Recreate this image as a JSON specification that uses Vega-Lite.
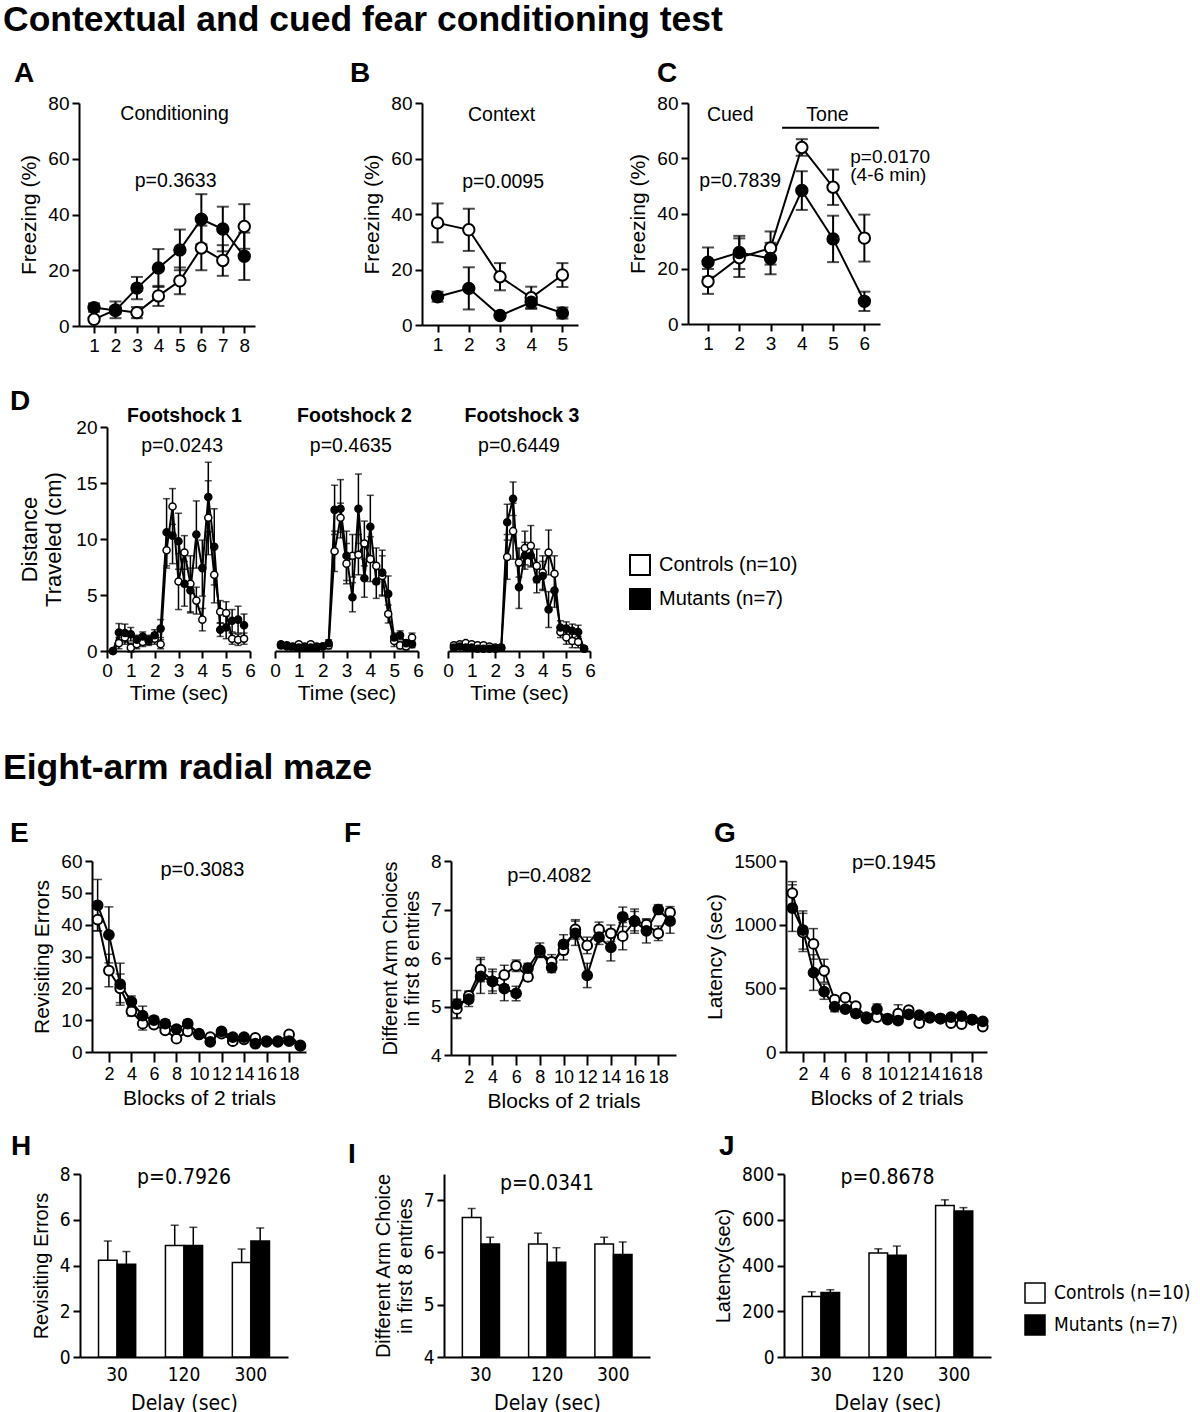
{
"$schema":"https://vega.github.io/schema/vega-lite/v6.json",
"background":"white",
"padding":{"left":3,"top":2,"right":3,"bottom":3},
"config":{
 "font":"Liberation Sans",
 "view":{"stroke":null},
 "axis":{"domainColor":"black","domainWidth":2,"tickColor":"black","tickWidth":2,"tickSize":7,"labelColor":"black","labelFontSize":19,"labelPadding":3,"titleColor":"black","titleFontSize":21,"titleFontWeight":"normal","titlePadding":8,"grid":false,"labelFlush":false,"labelOverlap":false},
 "title":{"fontSize":28,"fontWeight":"bold","anchor":"start","frame":"group","color":"black","offset":6},
 "text":{"color":"black","font":"Liberation Sans"}
},
"datasets":{
 "A":[{"x":1,"g":"C","m":2.4,"e":0.6},{"x":2,"g":"C","m":5.8,"e":3},{"x":3,"g":"C","m":4.8,"e":2},{"x":4,"g":"C","m":10.8,"e":3.6},{"x":5,"g":"C","m":16.2,"e":4.8},{"x":6,"g":"C","m":28,"e":8},{"x":7,"g":"C","m":23.5,"e":5.5},{"x":8,"g":"C","m":35.7,"e":8},
      {"x":1,"g":"M","m":6.6,"e":1.5},{"x":2,"g":"M","m":5.6,"e":1.2},{"x":3,"g":"M","m":13.6,"e":4},{"x":4,"g":"M","m":20.8,"e":6.8},{"x":5,"g":"M","m":27.3,"e":7.3},{"x":6,"g":"M","m":38.3,"e":9},{"x":7,"g":"M","m":34.8,"e":8},{"x":8,"g":"M","m":25,"e":8.5}],
 "At":[{"x":4.75,"y":76,"t":"Conditioning"},{"x":4.8,"y":52,"t":"p=0.3633"}],
 "B":[{"x":1,"g":"C","m":36.8,"e":7},{"x":2,"g":"C","m":34.3,"e":7.6},{"x":3,"g":"C","m":17.4,"e":4.9},{"x":4,"g":"C","m":9.8,"e":4},{"x":5,"g":"C","m":18,"e":4.3},
      {"x":1,"g":"M","m":10.2,"e":1.8},{"x":2,"g":"M","m":13.2,"e":7.6},{"x":3,"g":"M","m":3.4,"e":0.5},{"x":4,"g":"M","m":8.2,"e":2},{"x":5,"g":"M","m":4.3,"e":2}],
 "Bt":[{"x":3.05,"y":75.7,"t":"Context"},{"x":3.1,"y":51.6,"t":"p=0.0095"}],
 "C":[{"x":1,"g":"C","m":15.4,"e":4.5},{"x":2,"g":"C","m":24,"e":7},{"x":3,"g":"C","m":27.5,"e":6},{"x":4,"g":"C","m":63.9,"e":3},{"x":5,"g":"C","m":49.5,"e":6.4},{"x":6,"g":"C","m":31.1,"e":8.5},
      {"x":1,"g":"M","m":22.4,"e":5.3},{"x":2,"g":"M","m":25.9,"e":6},{"x":3,"g":"M","m":23.7,"e":5.7},{"x":4,"g":"M","m":48.3,"e":7},{"x":5,"g":"M","m":30.8,"e":8.4},{"x":6,"g":"M","m":8.2,"e":3.5}],
 "Ct":[{"x":1.71,"y":75.7,"t":"Cued"},{"x":4.82,"y":75.7,"t":"Tone"},{"x":2.03,"y":51.9,"t":"p=0.7839"}],
 "Ct2":[{"x":5.55,"y":60.6,"t":"p=0.0170"},{"x":5.55,"y":54,"t":"(4-6 min)"}],
 "Cr":[{"x":3.37,"x2":6.47,"y":71}],
 "D1":[{"x":0.25,"g":"C","m":0,"e":0.1},{"x":0.5,"g":"C","m":0.7,"e":0.5},{"x":0.75,"g":"C","m":1.2,"e":0.6},{"x":1,"g":"C","m":0.3,"e":0.4},{"x":1.25,"g":"C","m":0.6,"e":0.4},{"x":1.5,"g":"C","m":0.8,"e":0.4},{"x":1.75,"g":"C","m":0.9,"e":0.4},{"x":2,"g":"C","m":1.1,"e":0.5},{"x":2.25,"g":"C","m":0.6,"e":0.4},{"x":2.5,"g":"C","m":9.0,"e":1.6},{"x":2.75,"g":"C","m":12.9,"e":1.6},{"x":3,"g":"C","m":6.2,"e":2.5},{"x":3.25,"g":"C","m":8.8,"e":1.5},{"x":3.5,"g":"C","m":6.0,"e":2.5},{"x":3.75,"g":"C","m":4.5,"e":1.2},{"x":4,"g":"C","m":2.8,"e":1.0},{"x":4.25,"g":"C","m":11.9,"e":3.3},{"x":4.5,"g":"C","m":6.8,"e":2.5},{"x":4.75,"g":"C","m":3.5,"e":1.0},{"x":5,"g":"C","m":3.4,"e":1.0},{"x":5.25,"g":"C","m":1.1,"e":0.5},{"x":5.5,"g":"C","m":1.0,"e":0.5},{"x":5.75,"g":"C","m":1.1,"e":0.5},
       {"x":0.25,"g":"M","m":0,"e":0.1},{"x":0.5,"g":"M","m":1.65,"e":0.8},{"x":0.75,"g":"M","m":1.6,"e":0.8},{"x":1,"g":"M","m":1.5,"e":0.6},{"x":1.25,"g":"M","m":1.0,"e":0.4},{"x":1.5,"g":"M","m":1.3,"e":0.4},{"x":1.75,"g":"M","m":1.0,"e":0.4},{"x":2,"g":"M","m":1.4,"e":0.5},{"x":2.25,"g":"M","m":2.0,"e":0.8},{"x":2.5,"g":"M","m":10.6,"e":3.0},{"x":2.75,"g":"M","m":10.3,"e":2.5},{"x":3,"g":"M","m":9.8,"e":2.5},{"x":3.25,"g":"M","m":6.0,"e":2.0},{"x":3.5,"g":"M","m":5.4,"e":2.0},{"x":3.75,"g":"M","m":10.4,"e":3.0},{"x":4,"g":"M","m":7.4,"e":2.5},{"x":4.25,"g":"M","m":13.75,"e":3.1},{"x":4.5,"g":"M","m":9.3,"e":3.4},{"x":4.75,"g":"M","m":1.9,"e":0.6},{"x":5,"g":"M","m":2.1,"e":1.0},{"x":5.25,"g":"M","m":2.7,"e":1.0},{"x":5.5,"g":"M","m":2.8,"e":1.2},{"x":5.75,"g":"M","m":2.3,"e":1.0}],
 "D2":[{"x":0.25,"g":"C","m":0.6,"e":0.2},{"x":0.5,"g":"C","m":0.4,"e":0.2},{"x":0.75,"g":"C","m":0.3,"e":0.2},{"x":1,"g":"C","m":0.6,"e":0.2},{"x":1.25,"g":"C","m":0.4,"e":0.2},{"x":1.5,"g":"C","m":0.6,"e":0.2},{"x":1.75,"g":"C","m":0.4,"e":0.2},{"x":2,"g":"C","m":0.4,"e":0.2},{"x":2.25,"g":"C","m":0.5,"e":0.3},{"x":2.5,"g":"C","m":8.9,"e":1.8},{"x":2.75,"g":"C","m":11.9,"e":1.3},{"x":3,"g":"C","m":7.8,"e":1.8},{"x":3.25,"g":"C","m":8.5,"e":1.9},{"x":3.5,"g":"C","m":8.6,"e":1.8},{"x":3.75,"g":"C","m":9.6,"e":2.0},{"x":4,"g":"C","m":8.2,"e":2.0},{"x":4.25,"g":"C","m":7.6,"e":1.6},{"x":4.5,"g":"C","m":6.7,"e":1.8},{"x":4.75,"g":"C","m":3.3,"e":0.8},{"x":5,"g":"C","m":0.9,"e":0.5},{"x":5.25,"g":"C","m":0.5,"e":0.3},{"x":5.5,"g":"C","m":0.4,"e":0.3},{"x":5.75,"g":"C","m":1.2,"e":0.4},
       {"x":0.25,"g":"M","m":0.5,"e":0.2},{"x":0.5,"g":"M","m":0.5,"e":0.2},{"x":0.75,"g":"M","m":0.4,"e":0.2},{"x":1,"g":"M","m":0.3,"e":0.2},{"x":1.25,"g":"M","m":0.3,"e":0.2},{"x":1.5,"g":"M","m":0.3,"e":0.2},{"x":1.75,"g":"M","m":0.3,"e":0.2},{"x":2,"g":"M","m":0.4,"e":0.2},{"x":2.25,"g":"M","m":0.7,"e":0.3},{"x":2.5,"g":"M","m":12.6,"e":2.2},{"x":2.75,"g":"M","m":12.7,"e":2.6},{"x":3,"g":"M","m":8.5,"e":2.2},{"x":3.25,"g":"M","m":4.8,"e":1.3},{"x":3.5,"g":"M","m":12.7,"e":3.1},{"x":3.75,"g":"M","m":6.5,"e":1.7},{"x":4,"g":"M","m":11.1,"e":2.8},{"x":4.25,"g":"M","m":6.2,"e":1.5},{"x":4.5,"g":"M","m":7.0,"e":2.0},{"x":4.75,"g":"M","m":5.1,"e":1.6},{"x":5,"g":"M","m":1.2,"e":0.4},{"x":5.25,"g":"M","m":1.4,"e":0.4},{"x":5.5,"g":"M","m":0.7,"e":0.3},{"x":5.75,"g":"M","m":0.6,"e":0.3}],
 "D3":[{"x":0.25,"g":"C","m":0.5,"e":0.2},{"x":0.5,"g":"C","m":0.6,"e":0.2},{"x":0.75,"g":"C","m":0.7,"e":0.2},{"x":1,"g":"C","m":0.6,"e":0.2},{"x":1.25,"g":"C","m":0.5,"e":0.2},{"x":1.5,"g":"C","m":0.5,"e":0.2},{"x":1.75,"g":"C","m":0.4,"e":0.2},{"x":2,"g":"C","m":0.3,"e":0.2},{"x":2.25,"g":"C","m":0.3,"e":0.2},{"x":2.5,"g":"C","m":8.4,"e":2.0},{"x":2.75,"g":"C","m":10.7,"e":2.5},{"x":3,"g":"C","m":7.9,"e":1.3},{"x":3.25,"g":"C","m":9.2,"e":1.5},{"x":3.5,"g":"C","m":9.4,"e":1.8},{"x":3.75,"g":"C","m":7.6,"e":1.5},{"x":4,"g":"C","m":7.0,"e":1.5},{"x":4.25,"g":"C","m":8.8,"e":2.0},{"x":4.5,"g":"C","m":6.9,"e":1.6},{"x":4.75,"g":"C","m":1.7,"e":0.5},{"x":5,"g":"C","m":1.2,"e":0.6},{"x":5.25,"g":"C","m":0.9,"e":0.6},{"x":5.5,"g":"C","m":0.8,"e":0.5},{"x":5.75,"g":"C","m":0.2,"e":0.2},
       {"x":0.25,"g":"M","m":0.3,"e":0.2},{"x":0.5,"g":"M","m":0.4,"e":0.2},{"x":0.75,"g":"M","m":0.3,"e":0.2},{"x":1,"g":"M","m":0.3,"e":0.2},{"x":1.25,"g":"M","m":0.2,"e":0.2},{"x":1.5,"g":"M","m":0.2,"e":0.2},{"x":1.75,"g":"M","m":0.2,"e":0.2},{"x":2,"g":"M","m":0.2,"e":0.2},{"x":2.25,"g":"M","m":0.3,"e":0.2},{"x":2.5,"g":"M","m":11.5,"e":1.6},{"x":2.75,"g":"M","m":13.6,"e":1.5},{"x":3,"g":"M","m":5.7,"e":1.9},{"x":3.25,"g":"M","m":8.5,"e":1.2},{"x":3.5,"g":"M","m":8.5,"e":1.0},{"x":3.75,"g":"M","m":6.4,"e":1.2},{"x":4,"g":"M","m":6.7,"e":1.3},{"x":4.25,"g":"M","m":3.7,"e":1.6},{"x":4.5,"g":"M","m":5.4,"e":1.5},{"x":4.75,"g":"M","m":2.1,"e":0.6},{"x":5,"g":"M","m":2.0,"e":0.6},{"x":5.25,"g":"M","m":1.8,"e":0.6},{"x":5.5,"g":"M","m":1.7,"e":0.6},{"x":5.75,"g":"M","m":0.2,"e":0.2}],
 "D1t":[{"x":3.15,"y":18.3,"t":"p=0.0243"}],
 "D2t":[{"x":3.18,"y":18.3,"t":"p=0.4635"}],
 "D3t":[{"x":3.0,"y":18.3,"t":"p=0.6449"}],
 "E":[{"x":1,"g":"C","m":41.6,"e":3.5},{"x":2,"g":"C","m":25.6,"e":5.1},{"x":3,"g":"C","m":20,"e":4.5},{"x":4,"g":"C","m":12.8,"e":1.5},{"x":5,"g":"C","m":8.9,"e":2},{"x":6,"g":"C","m":8.6,"e":1},{"x":7,"g":"C","m":6.8,"e":0.8},{"x":8,"g":"C","m":4.2,"e":0.6},{"x":9,"g":"C","m":6.5,"e":0.8},{"x":10,"g":"C","m":5.5,"e":0.6},{"x":11,"g":"C","m":4.7,"e":0.6},{"x":12,"g":"C","m":5.8,"e":0.6},{"x":13,"g":"C","m":3.4,"e":0.6},{"x":14,"g":"C","m":4,"e":0.6},{"x":15,"g":"C","m":4.4,"e":0.6},{"x":16,"g":"C","m":3.2,"e":0.5},{"x":17,"g":"C","m":3.2,"e":0.5},{"x":18,"g":"C","m":5.5,"e":0.8},{"x":19,"g":"C","m":1.9,"e":0.5},
      {"x":1,"g":"M","m":46.1,"e":8.1},{"x":2,"g":"M","m":36.8,"e":8.8},{"x":3,"g":"M","m":21.3,"e":6.6},{"x":4,"g":"M","m":15.8,"e":1.8},{"x":5,"g":"M","m":11.4,"e":3},{"x":6,"g":"M","m":10,"e":1.2},{"x":7,"g":"M","m":8.9,"e":1.2},{"x":8,"g":"M","m":7.2,"e":1},{"x":9,"g":"M","m":8.9,"e":1.2},{"x":10,"g":"M","m":5.8,"e":1},{"x":11,"g":"M","m":3.2,"e":0.8},{"x":12,"g":"M","m":6.5,"e":1},{"x":13,"g":"M","m":4.7,"e":1},{"x":14,"g":"M","m":4.7,"e":0.8},{"x":15,"g":"M","m":2.6,"e":0.6},{"x":16,"g":"M","m":3.4,"e":0.8},{"x":17,"g":"M","m":3.4,"e":0.6},{"x":18,"g":"M","m":3.4,"e":0.8},{"x":19,"g":"M","m":2.1,"e":0.6}],
 "Et":[{"x":10.3,"y":57.3,"t":"p=0.3083"}],
 "F":[{"x":1,"g":"C","m":4.95,"e":0.2},{"x":2,"g":"C","m":5.22,"e":0.1},{"x":3,"g":"C","m":5.76,"e":0.25},{"x":4,"g":"C","m":5.52,"e":0.2},{"x":5,"g":"C","m":5.65,"e":0.2},{"x":6,"g":"C","m":5.84,"e":0.12},{"x":7,"g":"C","m":5.61,"e":0.08},{"x":8,"g":"C","m":6.12,"e":0.1},{"x":9,"g":"C","m":5.92,"e":0.15},{"x":10,"g":"C","m":6.16,"e":0.2},{"x":11,"g":"C","m":6.59,"e":0.2},{"x":12,"g":"C","m":6.26,"e":0.17},{"x":13,"g":"C","m":6.59,"e":0.15},{"x":14,"g":"C","m":6.51,"e":0.17},{"x":15,"g":"C","m":6.45,"e":0.28},{"x":16,"g":"C","m":6.76,"e":0.2},{"x":17,"g":"C","m":6.69,"e":0.1},{"x":18,"g":"C","m":6.51,"e":0.15},{"x":19,"g":"C","m":6.94,"e":0.12},
      {"x":1,"g":"M","m":5.05,"e":0.28},{"x":2,"g":"M","m":5.15,"e":0.15},{"x":3,"g":"M","m":5.62,"e":0.35},{"x":4,"g":"M","m":5.52,"e":0.25},{"x":5,"g":"M","m":5.37,"e":0.25},{"x":6,"g":"M","m":5.27,"e":0.15},{"x":7,"g":"M","m":5.79,"e":0.1},{"x":8,"g":"M","m":6.16,"e":0.15},{"x":9,"g":"M","m":5.8,"e":0.1},{"x":10,"g":"M","m":6.28,"e":0.2},{"x":11,"g":"M","m":6.51,"e":0.25},{"x":12,"g":"M","m":5.64,"e":0.25},{"x":13,"g":"M","m":6.43,"e":0.15},{"x":14,"g":"M","m":6.22,"e":0.28},{"x":15,"g":"M","m":6.85,"e":0.2},{"x":16,"g":"M","m":6.76,"e":0.25},{"x":17,"g":"M","m":6.56,"e":0.25},{"x":18,"g":"M","m":7.0,"e":0.1},{"x":19,"g":"M","m":6.76,"e":0.25}],
 "Ft":[{"x":8.8,"y":7.7,"t":"p=0.4082"}],
 "G":[{"x":1,"g":"C","m":1248,"e":90},{"x":2,"g":"C","m":939,"e":150},{"x":3,"g":"C","m":849,"e":120},{"x":4,"g":"C","m":638,"e":90},{"x":5,"g":"C","m":411,"e":30},{"x":6,"g":"C","m":427,"e":20},{"x":7,"g":"C","m":361,"e":20},{"x":8,"g":"C","m":274,"e":20},{"x":9,"g":"C","m":274,"e":30},{"x":10,"g":"C","m":263,"e":20},{"x":11,"g":"C","m":301,"e":70},{"x":12,"g":"C","m":328,"e":20},{"x":13,"g":"C","m":227,"e":20},{"x":14,"g":"C","m":268,"e":20},{"x":15,"g":"C","m":263,"e":20},{"x":16,"g":"C","m":227,"e":20},{"x":17,"g":"C","m":219,"e":20},{"x":18,"g":"C","m":255,"e":20},{"x":19,"g":"C","m":200,"e":20},
      {"x":1,"g":"M","m":1130,"e":183},{"x":2,"g":"M","m":958,"e":150},{"x":3,"g":"M","m":624,"e":140},{"x":4,"g":"M","m":474,"e":60},{"x":5,"g":"M","m":356,"e":40},{"x":6,"g":"M","m":337,"e":25},{"x":7,"g":"M","m":301,"e":25},{"x":8,"g":"M","m":263,"e":20},{"x":9,"g":"M","m":337,"e":40},{"x":10,"g":"M","m":255,"e":25},{"x":11,"g":"M","m":246,"e":25},{"x":12,"g":"M","m":296,"e":25},{"x":13,"g":"M","m":290,"e":20},{"x":14,"g":"M","m":274,"e":20},{"x":15,"g":"M","m":263,"e":20},{"x":16,"g":"M","m":274,"e":20},{"x":17,"g":"M","m":282,"e":20},{"x":18,"g":"M","m":255,"e":20},{"x":19,"g":"M","m":241,"e":20}],
 "Gt":[{"x":10.6,"y":1486,"t":"p=0.1945"}],
 "H":[{"d":"30","g":"C","m":4.23,"e":0.84},{"d":"120","g":"C","m":4.87,"e":0.89},{"d":"300","g":"C","m":4.13,"e":0.59},{"d":"30","g":"M","m":4.06,"e":0.55},{"d":"120","g":"M","m":4.87,"e":0.8},{"d":"300","g":"M","m":5.07,"e":0.57}],
 "Ht":[{"d":"120","y":7.84,"t":"p=0.7926"}],
 "I":[{"d":"30","g":"C","m":6.67,"e":0.17},{"d":"120","g":"C","m":6.16,"e":0.21},{"d":"300","g":"C","m":6.16,"e":0.13},{"d":"30","g":"M","m":6.16,"e":0.13},{"d":"120","g":"M","m":5.81,"e":0.28},{"d":"300","g":"M","m":5.96,"e":0.24}],
 "It":[{"d":"120","y":7.3,"t":"p=0.0341"}],
 "J":[{"d":"30","g":"C","m":265,"e":20},{"d":"120","g":"C","m":455,"e":18},{"d":"300","g":"C","m":662,"e":25},{"d":"30","g":"M","m":282,"e":12},{"d":"120","g":"M","m":445,"e":40},{"d":"300","g":"M","m":638,"e":15}],
 "Jt":[{"d":"120","y":783,"t":"p=0.8678"}]
},
"title":{"text":"Contextual and cued fear conditioning test","fontSize":35.5,"dx":-76,"offset":22},
"spacing":0,
"bounds":"flush",
"resolve":{"scale":{"fill":"independent"}},
"vconcat":[
 {
  "spacing":0,"bounds":"flush","resolve":{"scale":{"fill":"independent"}},
  "hconcat":[
   {
    "width":176,"height":223,"title":{"text":"A","dx":-65},
    "data":{"name":"A"},
    "layer":[
     {"mark":{"type":"errorbar","ticks":{"size":12},"thickness":2,"color":"black"},
      "encoding":{"x":{"field":"x","type":"quantitative","scale":{"domain":[0.3,8.5],"nice":false},"axis":{"values":[1,2,3,4,5,6,7,8],"tickCount":40,"format":"d","title":null}},
        "y":{"field":"m","type":"quantitative","scale":{"domain":[0,80],"nice":false},"axis":{"values":[0,20,40,60,80],"tickCount":40,"format":"d","title":"Freezing (%)"}},
        "yError":{"field":"e"},"detail":{"field":"g"}}},
     {"mark":{"type":"line","color":"black","strokeWidth":2},"encoding":{"x":{"field":"x","type":"quantitative"},"y":{"field":"m","type":"quantitative"},"detail":{"field":"g"}}},
     {"mark":{"type":"point","shape":"circle","filled":true,"size":130,"stroke":"black","strokeWidth":2,"opacity":1},
      "encoding":{"x":{"field":"x","type":"quantitative"},"y":{"field":"m","type":"quantitative"},"fill":{"field":"g","type":"nominal","scale":{"domain":["C","M"],"range":["white","black"]},"legend":null}}},
     {"data":{"name":"At"},"mark":{"type":"text","fontSize":19.5},"encoding":{"x":{"field":"x","type":"quantitative"},"y":{"field":"y","type":"quantitative"},"text":{"field":"t"}}}
    ]
   },
   {"width":167,"height":1,"data":{"values":[]},"mark":"point"},
   {
    "width":156,"height":222,"title":{"text":"B","dx":-72},
    "data":{"name":"B"},
    "layer":[
     {"mark":{"type":"errorbar","ticks":{"size":12},"thickness":2,"color":"black"},
      "encoding":{"x":{"field":"x","type":"quantitative","scale":{"domain":[0.5,5.5],"nice":false},"axis":{"values":[1,2,3,4,5],"tickCount":40,"format":"d","title":null}},
        "y":{"field":"m","type":"quantitative","scale":{"domain":[0,80],"nice":false},"axis":{"values":[0,20,40,60,80],"tickCount":40,"format":"d","title":"Freezing (%)"}},
        "yError":{"field":"e"},"detail":{"field":"g"}}},
     {"mark":{"type":"line","color":"black","strokeWidth":2},"encoding":{"x":{"field":"x","type":"quantitative"},"y":{"field":"m","type":"quantitative"},"detail":{"field":"g"}}},
     {"mark":{"type":"point","shape":"circle","filled":true,"size":130,"stroke":"black","strokeWidth":2,"opacity":1},
      "encoding":{"x":{"field":"x","type":"quantitative"},"y":{"field":"m","type":"quantitative"},"fill":{"field":"g","type":"nominal","scale":{"domain":["C","M"],"range":["white","black"]},"legend":null}}},
     {"data":{"name":"Bt"},"mark":{"type":"text","fontSize":19.5},"encoding":{"x":{"field":"x","type":"quantitative"},"y":{"field":"y","type":"quantitative"},"text":{"field":"t"}}}
    ]
   },
   {"width":110,"height":1,"data":{"values":[]},"mark":"point"},
   {
    "width":192,"height":221,"title":{"text":"C","dx":-31},
    "data":{"name":"C"},
    "layer":[
     {"mark":{"type":"errorbar","ticks":{"size":12},"thickness":2,"color":"black"},
      "encoding":{"x":{"field":"x","type":"quantitative","scale":{"domain":[0.36,6.5],"nice":false},"axis":{"values":[1,2,3,4,5,6],"tickCount":40,"format":"d","title":null}},
        "y":{"field":"m","type":"quantitative","scale":{"domain":[0,80],"nice":false},"axis":{"values":[0,20,40,60,80],"tickCount":40,"format":"d","title":"Freezing (%)"}},
        "yError":{"field":"e"},"detail":{"field":"g"}}},
     {"mark":{"type":"line","color":"black","strokeWidth":2},"encoding":{"x":{"field":"x","type":"quantitative"},"y":{"field":"m","type":"quantitative"},"detail":{"field":"g"}}},
     {"mark":{"type":"point","shape":"circle","filled":true,"size":130,"stroke":"black","strokeWidth":2,"opacity":1},
      "encoding":{"x":{"field":"x","type":"quantitative"},"y":{"field":"m","type":"quantitative"},"fill":{"field":"g","type":"nominal","scale":{"domain":["C","M"],"range":["white","black"]},"legend":null}}},
     {"data":{"name":"Ct"},"mark":{"type":"text","fontSize":19.5},"encoding":{"x":{"field":"x","type":"quantitative"},"y":{"field":"y","type":"quantitative"},"text":{"field":"t"}}},
     {"data":{"name":"Ct2"},"mark":{"type":"text","fontSize":19,"align":"left"},"encoding":{"x":{"field":"x","type":"quantitative"},"y":{"field":"y","type":"quantitative"},"text":{"field":"t"}}},
     {"data":{"name":"Cr"},"mark":{"type":"rule","color":"black","strokeWidth":2},"encoding":{"x":{"field":"x","type":"quantitative"},"x2":{"field":"x2"},"y":{"field":"y","type":"quantitative"}}}
    ]
   }
  ]
 },
 {"width":1,"height":324,"data":{"values":[]},"mark":"point"},
 {
  "spacing":0,"bounds":"flush","resolve":{"scale":{"fill":"independent"}},
  "hconcat":[
   {"width":28,"height":10,"title":{"text":"D","dx":-69,"offset":11},"data":{"values":[]},"mark":"point"},
   {
    "width":143,"height":224,"title":{"text":"Footshock 1","anchor":"middle","fontSize":19.5,"dx":6,"offset":-8},
    "data":{"name":"D1"},
    "layer":[
     {"mark":{"type":"errorbar","ticks":{"size":7},"thickness":1.5,"color":"black"},
      "encoding":{"x":{"field":"x","type":"quantitative","scale":{"domain":[0,6],"nice":false},"axis":{"values":[0,1,2,3,4,5,6],"tickCount":40,"format":"d","title":"Time (sec)","titlePadding":2}},
        "y":{"field":"m","type":"quantitative","scale":{"domain":[0,20],"nice":false},"axis":{"values":[0,5,10,15,20],"tickCount":40,"format":"d","title":["Distance","Traveled (cm)"],"titleFontSize":22,"titlePadding":10}},
        "yError":{"field":"e"},"detail":{"field":"g"}}},
     {"mark":{"type":"line","color":"black","strokeWidth":2},"encoding":{"x":{"field":"x","type":"quantitative"},"y":{"field":"m","type":"quantitative"},"detail":{"field":"g"}}},
     {"mark":{"type":"point","shape":"circle","filled":true,"size":50,"stroke":"black","strokeWidth":1.5,"opacity":1},
      "encoding":{"x":{"field":"x","type":"quantitative"},"y":{"field":"m","type":"quantitative"},"fill":{"field":"g","type":"nominal","scale":{"domain":["C","M"],"range":["white","black"]},"legend":null}}},
     {"data":{"name":"D1t"},"mark":{"type":"text","fontSize":19.5},"encoding":{"x":{"field":"x","type":"quantitative"},"y":{"field":"y","type":"quantitative"},"text":{"field":"t"}}}
    ]
   },
   {"width":25,"height":1,"data":{"values":[]},"mark":"point"},
   {
    "width":143,"height":224,"title":{"text":"Footshock 2","anchor":"middle","fontSize":19.5,"dx":8,"offset":1},
    "data":{"name":"D2"},
    "layer":[
     {"mark":{"type":"errorbar","ticks":{"size":7},"thickness":1.5,"color":"black"},
      "encoding":{"x":{"field":"x","type":"quantitative","scale":{"domain":[0,6],"nice":false},"axis":{"values":[0,1,2,3,4,5,6],"tickCount":40,"format":"d","title":"Time (sec)","titlePadding":2}},
        "y":{"field":"m","type":"quantitative","scale":{"domain":[0,20],"nice":false},"axis":null},
        "yError":{"field":"e"},"detail":{"field":"g"}}},
     {"mark":{"type":"line","color":"black","strokeWidth":2},"encoding":{"x":{"field":"x","type":"quantitative"},"y":{"field":"m","type":"quantitative"},"detail":{"field":"g"}}},
     {"mark":{"type":"point","shape":"circle","filled":true,"size":50,"stroke":"black","strokeWidth":1.5,"opacity":1},
      "encoding":{"x":{"field":"x","type":"quantitative"},"y":{"field":"m","type":"quantitative"},"fill":{"field":"g","type":"nominal","scale":{"domain":["C","M"],"range":["white","black"]},"legend":null}}},
     {"data":{"name":"D2t"},"mark":{"type":"text","fontSize":19.5},"encoding":{"x":{"field":"x","type":"quantitative"},"y":{"field":"y","type":"quantitative"},"text":{"field":"t"}}}
    ]
   },
   {"width":30,"height":1,"data":{"values":[]},"mark":"point"},
   {
    "width":142,"height":224,"title":{"text":"Footshock 3","anchor":"middle","fontSize":19.5,"dx":3,"offset":1},
    "data":{"name":"D3"},
    "layer":[
     {"mark":{"type":"errorbar","ticks":{"size":7},"thickness":1.5,"color":"black"},
      "encoding":{"x":{"field":"x","type":"quantitative","scale":{"domain":[0,6],"nice":false},"axis":{"values":[0,1,2,3,4,5,6],"tickCount":40,"format":"d","title":"Time (sec)","titlePadding":2}},
        "y":{"field":"m","type":"quantitative","scale":{"domain":[0,20],"nice":false},"axis":null},
        "yError":{"field":"e"},"detail":{"field":"g"}}},
     {"mark":{"type":"line","color":"black","strokeWidth":2},"encoding":{"x":{"field":"x","type":"quantitative"},"y":{"field":"m","type":"quantitative"},"detail":{"field":"g"}}},
     {"mark":{"type":"point","shape":"circle","filled":true,"size":50,"stroke":"black","strokeWidth":1.5,"opacity":1},
      "encoding":{"x":{"field":"x","type":"quantitative"},"y":{"field":"m","type":"quantitative"},"fill":{"field":"g","type":"nominal","scale":{"domain":["C","M"],"range":["white","black"]},
        "legend":{"orient":"none","legendX":181,"legendY":127,"title":null,"symbolType":"square","symbolSize":400,"symbolStrokeColor":"black","symbolStrokeWidth":2,"symbolOpacity":1,"labelFontSize":20,"labelColor":"black","rowPadding":6,"labelOffset":8,"labelExpr":"datum.label == 'C' ? 'Controls (n=10)' : 'Mutants (n=7)'"}}}},
     {"data":{"name":"D3t"},"mark":{"type":"text","fontSize":19.5},"encoding":{"x":{"field":"x","type":"quantitative"},"y":{"field":"y","type":"quantitative"},"text":{"field":"t"}}}
    ]
   }
  ]
 },
 {"width":1,"height":357,"data":{"values":[]},"mark":"point"},
 {"width":1,"height":77,"title":{"text":"Eight-arm radial maze","fontSize":35.5,"dx":-76,"offset":-2},"data":{"values":[]},"mark":"point"},
 {
  "spacing":0,"bounds":"flush","resolve":{"scale":{"fill":"independent"}},
  "hconcat":[
   {"width":13,"height":1,"data":{"values":[]},"mark":"point"},
   {
    "width":214,"height":191,"title":{"text":"E","dx":-82,"offset":4},
    "data":{"name":"E"},
    "layer":[
     {"mark":{"type":"errorbar","ticks":{"size":9},"thickness":1.5,"color":"black"},
      "encoding":{"x":{"field":"x","type":"quantitative","scale":{"domain":[0.5,19.5],"nice":false},"axis":{"values":[2,4,6,8,10,12,14,16,18],"tickCount":40,"format":"d","labelFontSize":18,"title":"Blocks of 2 trials","tickSize":10,"titlePadding":4}},
        "y":{"field":"m","type":"quantitative","scale":{"domain":[0,60],"nice":false},"axis":{"values":[0,10,20,30,40,50,60],"tickCount":40,"format":"d","title":"Revisiting Errors"}},
        "yError":{"field":"e"},"detail":{"field":"g"}}},
     {"mark":{"type":"line","color":"black","strokeWidth":2},"encoding":{"x":{"field":"x","type":"quantitative"},"y":{"field":"m","type":"quantitative"},"detail":{"field":"g"}}},
     {"mark":{"type":"point","shape":"circle","filled":true,"size":95,"stroke":"black","strokeWidth":2,"opacity":1},
      "encoding":{"x":{"field":"x","type":"quantitative"},"y":{"field":"m","type":"quantitative"},"fill":{"field":"g","type":"nominal","scale":{"domain":["C","M"],"range":["white","black"]},"legend":null}}},
     {"data":{"name":"Et"},"mark":{"type":"text","fontSize":20},"encoding":{"x":{"field":"x","type":"quantitative"},"y":{"field":"y","type":"quantitative"},"text":{"field":"t"}}}
    ]
   },
   {"width":145,"height":1,"data":{"values":[]},"mark":"point"},
   {
    "width":225,"height":194,"title":{"text":"F","dx":-107,"offset":4},
    "data":{"name":"F"},
    "layer":[
     {"mark":{"type":"errorbar","ticks":{"size":9},"thickness":1.5,"color":"black"},
      "encoding":{"x":{"field":"x","type":"quantitative","scale":{"domain":[0.5,19.5],"nice":false},"axis":{"values":[2,4,6,8,10,12,14,16,18],"tickCount":40,"format":"d","labelFontSize":18,"title":"Blocks of 2 trials","tickSize":10,"titlePadding":4}},
        "y":{"field":"m","type":"quantitative","scale":{"domain":[4,8],"nice":false,"zero":false},"axis":{"values":[4,5,6,7,8],"tickCount":40,"format":"d","title":["Different Arm Choices","in first 8 entries"],"titleFontSize":20}},
        "yError":{"field":"e"},"detail":{"field":"g"}}},
     {"mark":{"type":"line","color":"black","strokeWidth":2},"encoding":{"x":{"field":"x","type":"quantitative"},"y":{"field":"m","type":"quantitative"},"detail":{"field":"g"}}},
     {"mark":{"type":"point","shape":"circle","filled":true,"size":95,"stroke":"black","strokeWidth":2,"opacity":1},
      "encoding":{"x":{"field":"x","type":"quantitative"},"y":{"field":"m","type":"quantitative"},"fill":{"field":"g","type":"nominal","scale":{"domain":["C","M"],"range":["white","black"]},"legend":null}}},
     {"data":{"name":"Ft"},"mark":{"type":"text","fontSize":20},"encoding":{"x":{"field":"x","type":"quantitative"},"y":{"field":"y","type":"quantitative"},"text":{"field":"t"}}}
    ]
   },
   {"width":110,"height":1,"data":{"values":[]},"mark":"point"},
   {
    "width":201,"height":191,"title":{"text":"G","dx":-72,"offset":4},
    "data":{"name":"G"},
    "layer":[
     {"mark":{"type":"errorbar","ticks":{"size":9},"thickness":1.5,"color":"black"},
      "encoding":{"x":{"field":"x","type":"quantitative","scale":{"domain":[0.4,19.4],"nice":false},"axis":{"values":[2,4,6,8,10,12,14,16,18],"tickCount":40,"format":"d","labelFontSize":18,"title":"Blocks of 2 trials","tickSize":10,"titlePadding":4}},
        "y":{"field":"m","type":"quantitative","scale":{"domain":[0,1500],"nice":false},"axis":{"values":[0,500,1000,1500],"tickCount":40,"format":"d","title":"Latency (sec)"}},
        "yError":{"field":"e"},"detail":{"field":"g"}}},
     {"mark":{"type":"line","color":"black","strokeWidth":2},"encoding":{"x":{"field":"x","type":"quantitative"},"y":{"field":"m","type":"quantitative"},"detail":{"field":"g"}}},
     {"mark":{"type":"point","shape":"circle","filled":true,"size":95,"stroke":"black","strokeWidth":2,"opacity":1},
      "encoding":{"x":{"field":"x","type":"quantitative"},"y":{"field":"m","type":"quantitative"},"fill":{"field":"g","type":"nominal","scale":{"domain":["C","M"],"range":["white","black"]},"legend":null}}},
     {"data":{"name":"Gt"},"mark":{"type":"text","fontSize":20},"encoding":{"x":{"field":"x","type":"quantitative"},"y":{"field":"y","type":"quantitative"},"text":{"field":"t"}}}
    ]
   }
  ]
 },
 {"width":1,"height":313,"data":{"values":[]},"mark":"point"},
 {
  "spacing":0,"bounds":"flush","resolve":{"scale":{"fill":"independent"}},
  "hconcat":[
   {"width":1,"height":1,"data":{"values":[]},"mark":"point"},
   {
    "width":208,"height":183,"title":{"text":"H","dx":-69,"offset":4},
    "data":{"name":"H"},
    "layer":[
     {"mark":{"type":"errorbar","ticks":{"size":8},"thickness":1.5,"color":"black"},
      "encoding":{"x":{"field":"d","type":"nominal","sort":["30","120","300"],"scale":{"paddingInner":0.445,"paddingOuter":0.277},"axis":{"title":"Delay (sec)","labelAngle":0,"ticks":false,"labelFont":"DejaVu Sans Condensed, Liberation Sans","titleFont":"DejaVu Sans Condensed, Liberation Sans","labelPadding":8}},
        "xOffset":{"field":"g","type":"nominal","scale":{"domain":["C","M"],"paddingInner":0,"paddingOuter":0}},
        "y":{"field":"m","type":"quantitative","scale":{"domain":[0,8],"nice":false},"axis":{"values":[0,2,4,6,8],"tickCount":40,"format":"d","title":"Revisiting Errors","labelFont":"DejaVu Sans Condensed, Liberation Sans","titleFontSize":20}},
        "yError":{"field":"e"}}},
     {"mark":{"type":"bar","stroke":"black","strokeWidth":1.5},
      "encoding":{"x":{"field":"d","type":"nominal","sort":["30","120","300"]},"xOffset":{"field":"g","type":"nominal"},"y":{"field":"m","type":"quantitative"},
        "fill":{"field":"g","type":"nominal","scale":{"domain":["C","M"],"range":["white","black"]},"legend":null}}},
     {"data":{"name":"Ht"},"mark":{"type":"text","fontSize":21,"font":"DejaVu Sans Condensed, Liberation Sans"},"encoding":{"x":{"field":"d","type":"nominal","sort":["30","120","300"]},"y":{"field":"y","type":"quantitative"},"text":{"field":"t"}}}
    ]
   },
   {"width":156,"height":1,"data":{"values":[]},"mark":"point"},
   {
    "width":206,"height":183,"title":{"text":"I","dx":-96,"offset":4},
    "data":{"name":"I"},
    "layer":[
     {"mark":{"type":"errorbar","ticks":{"size":8},"thickness":1.5,"color":"black"},
      "encoding":{"x":{"field":"d","type":"nominal","sort":["30","120","300"],"scale":{"paddingInner":0.445,"paddingOuter":0.277},"axis":{"title":"Delay (sec)","labelAngle":0,"ticks":false,"labelFont":"DejaVu Sans Condensed, Liberation Sans","titleFont":"DejaVu Sans Condensed, Liberation Sans","labelPadding":8}},
        "xOffset":{"field":"g","type":"nominal","scale":{"domain":["C","M"],"paddingInner":0,"paddingOuter":0}},
        "y":{"field":"m","type":"quantitative","scale":{"domain":[4,7.5],"nice":false,"zero":false},"axis":{"values":[4,5,6,7],"tickCount":40,"format":"d","title":["Different Arm Choice","in first 8 entries"],"labelFont":"DejaVu Sans Condensed, Liberation Sans","titleFontSize":20}},
        "yError":{"field":"e"}}},
     {"mark":{"type":"bar","stroke":"black","strokeWidth":1.5},
      "encoding":{"x":{"field":"d","type":"nominal","sort":["30","120","300"]},"xOffset":{"field":"g","type":"nominal"},"y":{"field":"m","type":"quantitative"},"y2":{"datum":4},
        "fill":{"field":"g","type":"nominal","scale":{"domain":["C","M"],"range":["white","black"]},"legend":null}}},
     {"data":{"name":"It"},"mark":{"type":"text","fontSize":21,"font":"DejaVu Sans Condensed, Liberation Sans"},"encoding":{"x":{"field":"d","type":"nominal","sort":["30","120","300"]},"y":{"field":"y","type":"quantitative"},"text":{"field":"t"}}}
    ]
   },
   {"width":134,"height":1,"data":{"values":[]},"mark":"point"},
   {
    "width":207,"height":183,"title":{"text":"J","dx":-65,"offset":4},
    "data":{"name":"J"},
    "layer":[
     {"mark":{"type":"errorbar","ticks":{"size":8},"thickness":1.5,"color":"black"},
      "encoding":{"x":{"field":"d","type":"nominal","sort":["30","120","300"],"scale":{"paddingInner":0.445,"paddingOuter":0.277},"axis":{"title":"Delay (sec)","labelAngle":0,"ticks":false,"labelFont":"DejaVu Sans Condensed, Liberation Sans","titleFont":"DejaVu Sans Condensed, Liberation Sans","labelPadding":8}},
        "xOffset":{"field":"g","type":"nominal","scale":{"domain":["C","M"],"paddingInner":0,"paddingOuter":0}},
        "y":{"field":"m","type":"quantitative","scale":{"domain":[0,800],"nice":false},"axis":{"values":[0,200,400,600,800],"tickCount":40,"format":"d","title":"Latency(sec)","labelFont":"DejaVu Sans Condensed, Liberation Sans","titleFontSize":20}},
        "yError":{"field":"e"}}},
     {"mark":{"type":"bar","stroke":"black","strokeWidth":1.5},
      "encoding":{"x":{"field":"d","type":"nominal","sort":["30","120","300"]},"xOffset":{"field":"g","type":"nominal"},"y":{"field":"m","type":"quantitative"},
        "fill":{"field":"g","type":"nominal","scale":{"domain":["C","M"],"range":["white","black"]},
          "legend":{"orient":"none","legendX":240,"legendY":108,"title":null,"symbolType":"square","symbolSize":400,"symbolStrokeColor":"black","symbolStrokeWidth":1.5,"symbolOpacity":1,"labelFontSize":19,"labelFont":"DejaVu Sans Condensed, Liberation Sans","labelColor":"black","rowPadding":6,"labelOffset":8,"labelExpr":"datum.label == 'C' ? 'Controls (n=10)' : 'Mutants (n=7)'"}}}},
     {"data":{"name":"Jt"},"mark":{"type":"text","fontSize":21,"font":"DejaVu Sans Condensed, Liberation Sans"},"encoding":{"x":{"field":"d","type":"nominal","sort":["30","120","300"]},"y":{"field":"y","type":"quantitative"},"text":{"field":"t"}}}
    ]
   }
  ]
 }
]
}
